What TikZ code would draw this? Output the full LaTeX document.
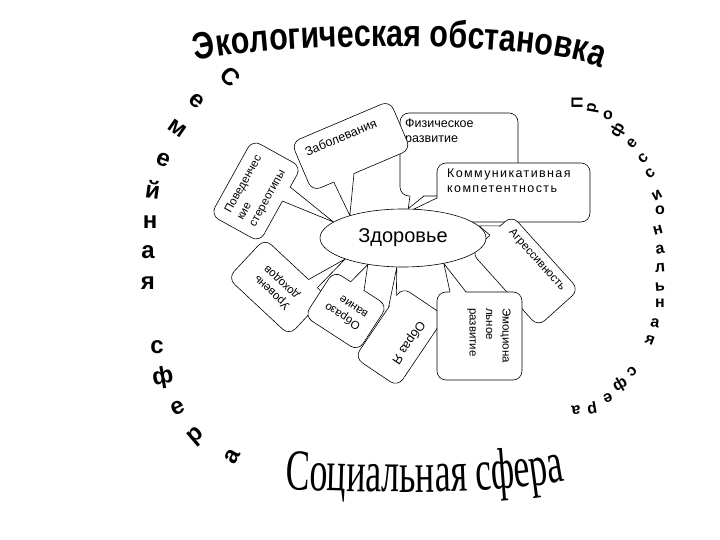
\documentclass[tikz,border=0pt]{standalone}
\usepackage{fontspec}
\setmainfont{Liberation Sans}
\newfontfamily\titlefont{Liberation Sans}[FakeStretch=0.8]
\newfontfamily\socfont{Liberation Serif}[FakeStretch=0.62]
\usetikzlibrary{shapes.geometric,decorations.text}
\pgfdeclarelayer{background}
\pgfsetlayers{background,main}

\begin{document}
\begin{tikzpicture}[x=1pt, y=1pt,
  callbox/.style={draw, fill=white, rounded corners=9pt, line width=0.6pt},
  wedge/.style={line width=0.6pt},
  boxtext/.style={font=\fontsize{11.5}{14}\selectfont, inner sep=0pt, align=left},
  bigtext/.style={font=\fontsize{12.5}{15}\selectfont},
  hub/.style={draw, ellipse, fill=white, line width=0.6pt, minimum width=166pt, minimum height=58pt, inner sep=0pt, font=\fontsize{20}{24}\selectfont},
  bigltr/.style={font=\bfseries\fontsize{24}{24}\selectfont, inner sep=0pt},
  smallltr/.style={font=\bfseries\fontsize{16}{16}\selectfont, inner sep=0pt}
]
\useasboundingbox (0,0) rectangle (720,540);

\node[hub] (zdr) at (403,302) {Здоровье};

\begin{pgfonlayer}{background}
\filldraw[callbox] (400,344) rectangle (518,427);
\fill[white] (410,345) -- (zdr.80) -- (424,345) -- cycle;
\draw[wedge] (410,344) -- (zdr.80) -- (424,344);
\node[boxtext, bigtext, anchor=north west] (fiz) at (405,421) {Физическое\\развитие};

\filldraw[callbox] (437,318) rectangle (590,377);
\fill[white] (438,327) -- (zdr.69) -- (438,342) -- cycle;
\draw[wedge] (437,327) -- (zdr.69) -- (437,342);
\node[boxtext, bigtext, anchor=north west] (komm) at (447,371) {\addfontfeature{LetterSpace=11}Коммуникативная\\\addfontfeature{LetterSpace=11}компетентность};

\begin{scope}[shift={(256,349)}, rotate=61]
  \filldraw[callbox] (-43,-28) rectangle (43,28);
  \fill[white] (4,-27) -- (zdr.167) -- (20,-27) -- cycle;
  \draw[wedge] (4,-28) -- (zdr.167) -- (20,-28);
  \node[boxtext, transform shape] (pov) at (0,0) {Поведенчес\\кие\\стереотипы};
\end{scope}

\begin{scope}[shift={(351,394)}, rotate=23]
  \filldraw[callbox] (-53.5,-26.5) rectangle (53.5,26.5);
  \fill[white] (-30,-25.5) -- (zdr.157) -- (-8,-25.5) -- cycle;
  \draw[wedge] (-30,-26.5) -- (zdr.157) -- (-8,-26.5);
  \node[boxtext, bigtext, transform shape] (zab) at (-6,12) {Заболевания};
\end{scope}

\begin{scope}[shift={(277,253)}, rotate=137]
  \filldraw[callbox] (-42,-27) rectangle (42,27);
  \fill[white] (-30,-26) -- (zdr.200) -- (-18,-26) -- cycle;
  \draw[wedge] (-30,-27) -- (zdr.200) -- (-18,-27);
  \node[boxtext, transform shape] (doh) at (0,0) {Уровень\\доходов};
\end{scope}

\begin{scope}[shift={(400,203)}, rotate=236]
  \filldraw[callbox] (-42.5,-26) rectangle (42.5,26);
  \fill[white] (-32,-25) -- (zdr.258) -- (-18,-25) -- cycle;
  \draw[wedge] (-32,-26) -- (zdr.258) -- (-18,-26);
  \node[boxtext, bigtext, transform shape] (ya) at (0,10) {Образ Я};
\end{scope}

\begin{scope}[shift={(346,229)}, rotate=147]
  \filldraw[callbox] (-32,-27) rectangle (32,27);
  \fill[white] (-4,-26) -- (zdr.217) -- (12,-26) -- cycle;
  \draw[wedge] (-4,-27) -- (zdr.217) -- (12,-27);
  \node[boxtext, transform shape] (obr) at (0,0) {Образо\\вание};
\end{scope}

\begin{scope}[shift={(525,269)}, rotate=-48]
  \filldraw[callbox] (-50,-27.5) rectangle (50,27.5);
  \fill[white] (-49,-2) -- (zdr.9) -- (-49,12) -- cycle;
  \draw[wedge] (-50,-2) -- (zdr.9) -- (-50,12);
  \node[boxtext, transform shape] (agr) at (0,16) {Агрессивность};
\end{scope}

\filldraw[callbox] (437,160) rectangle (522,248);
\fill[white] (450,247) -- (zdr.328) -- (466,247) -- cycle;
\draw[wedge] (450,248) -- (zdr.328) -- (466,248);
\node[boxtext, rotate=-90, anchor=west, font=\fontsize{11.5}{16.5}\selectfont] (emo) at (489,232) {Эмоциона\\льное\\развитие};
\end{pgfonlayer}

\path[decorate, decoration={text along path, text align=center,
  text={|\titlefont\bfseries\fontsize{38}{40}\selectfont|Экологическая обстановка}}]
  (192,478) .. controls (270,500) and (555,500) .. (605,470);
\path[decorate, decoration={text along path, text align=center,
  text={|\socfont\fontsize{58}{60}\selectfont|Социальная сфера}}]
  (280,51) .. controls (400,46) and (500,46) .. (570,60);

\foreach \ch/\px/\py/\rt [count=\i] in {С/230/463/-45, е/197/439/-40, м/177/412/-35, е/163/380/-20, й/153/350/-8, н/150/318/0, а/148/288/0, я/148/257/0, с/157/193/0, ф/163/162/10, е/178/132/25, р/197/103/40, а/232/83/60}
  \node[bigltr, rotate=\rt] (fam\i) at (\px,\py) {\ch};
\foreach \ch/\px/\py/\rt [count=\i] in {П/577/437/90, р/593/432/80, о/608/425/0, ф/618/410/60, е/632/397/50, с/643/382/45, с/650/367/40, и/657/345/30, о/660/330/0, н/658/310/15, а/660/290/10, л/660/272/5, ь/660/253/5, н/660/237/0, а/655/217/-10, я/650/200/-20, с/632/168/220, ф/620/155/210, е/608/142/200, р/592/132/190, а/576/130/185}
  \node[smallltr, rotate=\rt] (prof\i) at (\px,\py) {\ch};
\end{tikzpicture}
\end{document}
